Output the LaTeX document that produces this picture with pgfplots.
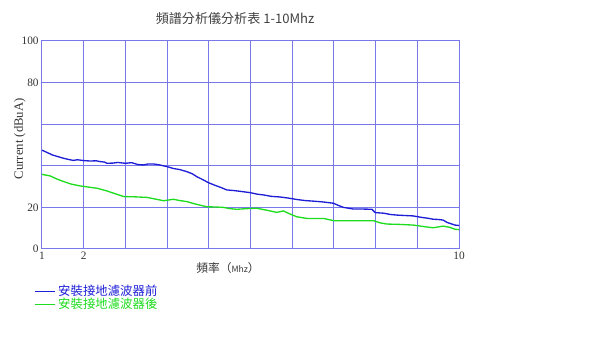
\documentclass[border=0pt]{standalone}
\usepackage{pgfplots}
\pgfplotsset{compat=1.18}
\usepackage{fontspec}
\setmainfont{Liberation Serif}
\newfontfamily\cjk{Noto Sans CJK TC}
\definecolor{gridc}{RGB}{120,120,235}
\definecolor{bl}{RGB}{30,30,215}
\definecolor{gr}{RGB}{30,220,30}
\begin{document}
\begin{tikzpicture}
\useasboundingbox (0pt,0pt) rectangle (450pt,253.5pt);
\begin{axis}[
  at={(31.5pt,66.75pt)}, anchor=south west,
  scale only axis, width=312.75pt, height=156pt,
  xmin=0, xmax=10, ymin=0, ymax=100,
  xtick={0,1,...,10}, xticklabels={1,2,,,,,,,,,10},
  ytick={0,20,...,100}, yticklabels={0,20,,,80,100},
  grid=major, major grid style={gridc, line width=0.75pt},
  axis line style={gridc, line width=0.75pt},
  tick style={draw=none},
  /pgf/number format/assume math mode=true,
  tick label style={font=\fontsize{8.5}{10}\selectfont, text=black!80},
  xticklabel style={yshift=1pt},
  yticklabel style={xshift=1pt},
  title={\cjk\fontsize{9.8}{11}\selectfont 頻譜分析儀分析表 1-10Mhz},
  title style={at={(axis description cs:0.463,1)}, anchor=south, yshift=3pt, text=black!75},
  ylabel={\fontsize{9.5}{11}\selectfont Current (dBuA)},
  ylabel style={at={(axis description cs:-0.028,0.53)}, anchor=south, text=black!80},
  xlabel={\cjk\fontsize{8.8}{10}\selectfont 頻率（{\fontsize{6.5}{8}\selectfont Mhz}）},
  xlabel style={at={(axis description cs:0.446,-0.04)}, anchor=north, text=black!80},
  legend style={at={(axis description cs:-0.018,-0.16)}, anchor=north west, draw=none, fill=none,
    inner sep=0pt, row sep=-3.5pt, font=\cjk\fontsize{9.3}{11}\selectfont},
  legend cell align=left,
  legend image code/.code={\draw[#1, line width=0.6pt] (0,0) -- (15pt,0);},
]
\addplot[bl, line width=1pt] coordinates {
(0.00,47.5) (0.10,46.6) (0.25,45.2) (0.40,44.3) (0.52,43.6) (0.65,43.0) (0.75,42.6) (0.85,42.9) (1.00,42.5)
(1.15,42.3) (1.30,42.4) (1.40,42.0) (1.50,41.8) (1.56,41.2) (1.70,41.3) (1.82,41.6) (2.00,41.2)
(2.15,41.5) (2.30,40.6) (2.43,40.4) (2.55,40.9) (2.67,40.9) (2.80,40.5) (3.00,39.6)
(3.15,38.7) (3.30,38.2) (3.47,37.2) (3.60,36.2) (3.71,34.8) (3.85,33.4) (3.99,31.9)
(4.15,30.6) (4.30,29.5) (4.43,28.4) (4.60,28.1) (4.80,27.6) (4.99,27.1)
(5.15,26.4) (5.31,26.0) (5.50,25.3) (5.71,25.0) (5.90,24.5) (6.11,23.8) (6.30,23.3) (6.51,23.0)
(6.75,22.6) (6.99,22.0) (7.10,21.0) (7.23,20.0) (7.47,19.2) (7.70,19.2) (7.91,19.1) (7.99,17.5)
(8.20,17.2) (8.35,16.6) (8.51,16.3) (8.70,16.1) (8.90,15.9) (9.10,15.2) (9.25,14.8) (9.38,14.3)
(9.50,14.2) (9.62,13.9) (9.71,12.8) (9.80,12.2) (9.90,11.5) (10.00,11.3)
};
\addplot[gr, line width=1pt] coordinates {
(0.00,35.9) (0.20,35.1) (0.35,33.7) (0.52,32.4) (0.70,31.2) (0.92,30.3) (1.10,29.8) (1.32,29.2)
(1.56,27.9) (1.75,26.6) (1.96,25.2) (2.20,25.1) (2.52,24.8) (2.72,24.0) (2.92,23.2) (3.15,23.9)
(3.30,23.3) (3.47,22.8) (3.70,21.5) (3.95,20.3) (4.15,20.2) (4.35,20.0) (4.50,19.4) (4.67,19.1)
(4.90,19.4) (5.15,19.6) (5.40,18.6) (5.63,17.6) (5.79,18.3) (5.95,16.8) (6.11,15.5) (6.35,14.7)
(6.75,14.7) (7.00,13.6) (7.50,13.6) (7.95,13.6) (8.10,12.6) (8.27,12.0) (8.60,11.8) (8.90,11.5)
(9.15,10.8) (9.38,10.2) (9.62,11.0) (9.78,10.4) (9.90,9.5) (10.00,9.3)
};
\legend{\textcolor{bl}{安裝接地濾波器前},\textcolor{gr}{安裝接地濾波器後}}
\end{axis}
\end{tikzpicture}
\end{document}
